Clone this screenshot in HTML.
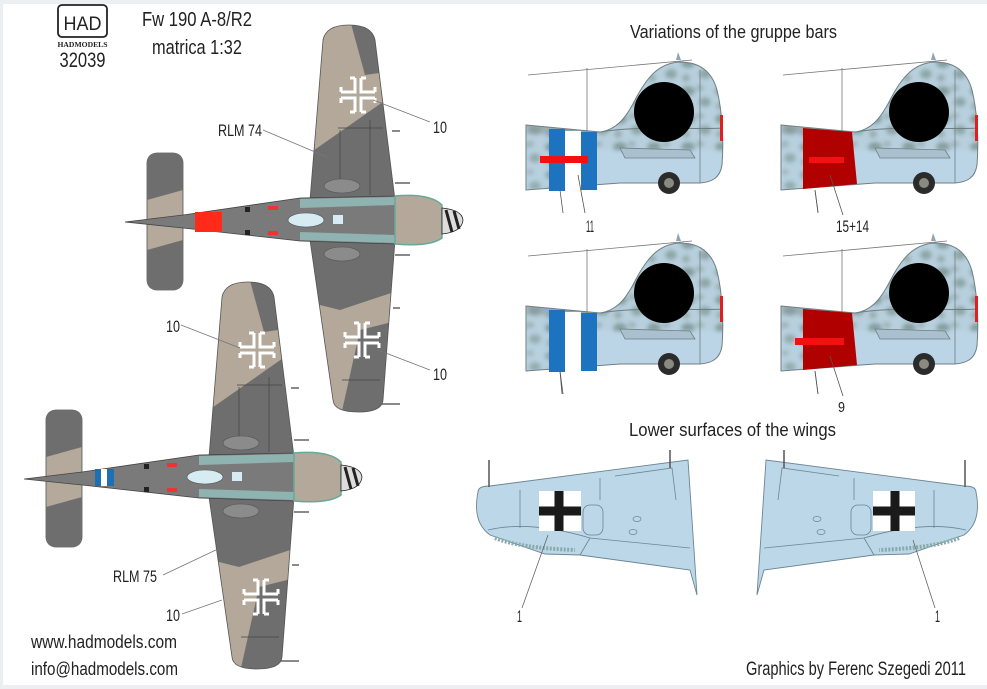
<!DOCTYPE html>
<html><head><meta charset="utf-8"><style>
html,body{margin:0;padding:0;background:#fff}
svg{display:block}
text{font-family:"Liberation Sans Narrow","Liberation Sans",sans-serif;fill:#222}
</style></head><body>
<svg width="987" height="689" viewBox="0 0 987 689" xmlns="http://www.w3.org/2000/svg">
<defs>
<filter id="bl" x="-20%" y="-20%" width="140%" height="140%"><feGaussianBlur stdDeviation="2.2"/></filter>
<pattern id="mot" width="34" height="28" patternUnits="userSpaceOnUse">
<rect width="34" height="28" fill="#b7cfdd"/>
<ellipse cx="8" cy="7" rx="7" ry="5" fill="#7f9a98"/>
<ellipse cx="25" cy="18" rx="6" ry="5" fill="#8aa3a2"/>
<ellipse cx="20" cy="4" rx="4" ry="3" fill="#9aaeb0"/>
<ellipse cx="6" cy="22" rx="4" ry="4" fill="#93aaa9"/>
</pattern>
<clipPath id="fsc"><path d="M526,125 L600,132 C615,130 625,120 635,100 C648,75 660,63 680,62 C700,62 712,72 717,90 C722,110 724,140 722,165 C720,178 712,182 700,183 L620,183 L526,190 Z"/></clipPath>
<clipPath id="wc"><path d="M310,200 L323,40 Q326,25 349,25 Q372,25 375,40 L395,200 L395,240 L383,400 Q382,412 358,412 Q334,412 333,400 L310,240 Z"/></clipPath>
<g id="sect">
<g clip-path="url(#fsc)">
<rect x="520" y="55" width="210" height="140" fill="#bcd5e6"/>
<g filter="url(#bl)">
<rect x="520" y="55" width="210" height="95" fill="url(#mot)" opacity="0.95"/>
<rect x="526" y="120" width="40" height="70" fill="url(#mot)" opacity="0.8"/>
<rect x="526" y="122" width="75" height="12" fill="#8a9a9c" opacity="0.6"/>
</g>
<path d="M600,132 C640,125 700,130 722,128" stroke="#6f7f85" stroke-width="1" fill="none"/>
<path d="M620,148 L690,150 L695,158 L625,158 Z" fill="#a9c0cf" stroke="#6f7f85" stroke-width="0.8"/>
<path d="M700,70 L700,183" stroke="#6f7f85" stroke-width="0.8"/>
</g>
<path d="M526,125 L600,132 C615,130 625,120 635,100 C648,75 660,63 680,62 C700,62 712,72 717,90 C722,110 724,140 722,165 C720,178 712,182 700,183 L620,183 L526,190 Z" fill="none" stroke="#6f7f85" stroke-width="1"/>
<path d="M676,60 L678,52 L681,60 Z" fill="#8fa6b2"/>
<rect x="720" y="115" width="3" height="26" fill="#e02020"/>
<circle cx="664" cy="112" r="30" fill="#000"/>
<circle cx="669" cy="183" r="11" fill="#2b2b2b"/><circle cx="669" cy="183" r="5" fill="#8a8a80"/>
<path d="M528,75 L692,60" stroke="#777" stroke-width="0.8"/>
<path d="M587,68 L587,182" stroke="#777" stroke-width="0.8"/>
<path d="M560,190 L563,213" stroke="#555" stroke-width="0.8"/>
</g>
<g id="cross">
<path d="M-3,-17 V-3 H-17 M3,-17 V-3 H17 M-3,17 V3 H-17 M3,17 V3 H17 M-3,-17 H-8 M3,-17 H8 M-17,-3 V-8 M17,-3 V-8 M-3,17 H-8 M3,17 H8 M-17,3 V8 M17,3 V8" stroke="#fff" stroke-width="3" fill="none"/></g>
<g id="plane">
<rect x="147" y="153" width="36" height="137" rx="10" fill="#b4a99b" stroke="#555" stroke-width="0.8"/>
<path d="M147,163 Q147,153 157,153 L173,153 Q183,153 183,163 L183,190 L147,200 Z M147,250 L183,240 L183,280 Q183,290 173,290 L157,290 Q147,290 147,280Z" fill="#6e6e6e"/>
<path d="M310,200 L323,40 Q326,25 349,25 Q372,25 375,40 L395,200 L395,240 L383,400 Q382,412 358,412 Q334,412 333,400 L310,240 Z" fill="#b3a899"/>
<g clip-path="url(#wc)" fill="#6e6e6e">
<path d="M350,20 L400,20 L400,70 L365,75 Z"/>
<path d="M300,160 L400,90 L400,200 L300,200 Z"/>
<path d="M300,240 L400,240 L400,290 L340,310 L300,300 Z"/>
<path d="M360,330 L400,320 L400,420 L340,420 Z"/>
</g>
<path d="M310,200 L323,40 Q326,25 349,25 Q372,25 375,40 L395,200 L395,240 L383,400 Q382,412 358,412 Q334,412 333,400 L310,240 Z" fill="none" stroke="#555" stroke-width="0.8"/>
<path d="M338,128 H383 M342,380 H380 M340,130 V190 M370,120 V195" stroke="#444" stroke-width="0.7" fill="none"/>
<ellipse cx="342" cy="186" rx="18" ry="7" fill="#8b8b8b" stroke="#555" stroke-width="0.6"/>
<ellipse cx="342" cy="254" rx="18" ry="7" fill="#8b8b8b" stroke="#555" stroke-width="0.6"/>
<path d="M392,131 H400 M395,183 H410 M395,255 H410 M393,308 H400 M382,404 H400" stroke="#444" stroke-width="1.2"/>
<path d="M125,222 L183,215 L300,198 L395,196 Q430,193 442,205 L442,238 Q430,247 395,244 L300,241 L183,228 Z" fill="#7a7a7a" stroke="#444" stroke-width="0.8"/>
<path d="M300,199 L395,197 L395,205 L300,208 Z M300,232 L395,235 L395,243 L300,240Z" fill="#8fb3b0"/>
<path d="M395,196 Q430,193 442,205 L442,238 Q430,247 395,244 Z" fill="#b3a899" stroke="#6a9" stroke-width="1.5"/>
<ellipse cx="306" cy="220" rx="18" ry="7" fill="#d7ecf2" stroke="#555" stroke-width="0.6"/>
<rect x="333" y="215" width="10" height="9" fill="#d7ecf2"/>
<rect x="245" y="207" width="5" height="5" fill="#222"/><rect x="245" y="230" width="5" height="5" fill="#222"/>
<rect x="268" y="206" width="10" height="4" fill="#e33"/><rect x="268" y="231" width="10" height="4" fill="#e33"/>
<path d="M442,208 Q462,210 463,220 Q462,232 442,234 Z" fill="#ddd" stroke="#222" stroke-width="0.8"/>
<path d="M446,210 L452,232 M454,211 L459,229" stroke="#222" stroke-width="3"/>
</g>
<g id="lw">
<path d="M478,492 Q478,486 490,486 L688,460 L697,595 L690,570 L580,555 L545,554 L490,535 Q472,522 478,492 Z" fill="#bcd7e8" stroke="#6b8594" stroke-width="0.9"/>
<path d="M488,530 Q530,520 590,538 L690,548 M590,538 L580,555 M520,490 L520,528 M600,478 L600,500 M615,476 L672,468 L676,500" stroke="#6b8594" stroke-width="0.8" fill="none"/>
<path d="M495,538 Q520,548 575,550" stroke="#8aa" stroke-width="4" fill="none" stroke-dasharray="2 1.5"/>
<rect x="583" y="505" width="20" height="30" rx="7" fill="none" stroke="#6b8594" stroke-width="0.8"/>
<ellipse cx="637" cy="519" rx="4" ry="2.5" fill="none" stroke="#6b8594" stroke-width="0.7"/>
<ellipse cx="633" cy="532" rx="4" ry="2.5" fill="none" stroke="#6b8594" stroke-width="0.7"/>
<path d="M489,487 L489,460 M670,468 L670,450" stroke="#555" stroke-width="1.5"/>
<rect x="539" y="491" width="42" height="40" fill="#fff"/>
<path d="M559,491 V531 M539,511 H581" stroke="#1a1a1a" stroke-width="9"/>
</g>
</defs>

<rect x="0" y="0" width="987" height="4" fill="#eceff1"/>
<rect x="0" y="685" width="987" height="4" fill="#eceff1"/>
<rect x="0" y="0" width="3" height="689" fill="#eceff1"/>

<rect x="58" y="5" width="49" height="32" rx="4" fill="none" stroke="#222" stroke-width="1.8"/>
<text x="82.5" y="30" font-size="19" text-anchor="middle" textLength="38" lengthAdjust="spacingAndGlyphs">HAD</text>
<text x="82.5" y="47" font-size="7" font-weight="bold" text-anchor="middle" textLength="50" lengthAdjust="spacingAndGlyphs" style="font-family:'Liberation Serif',serif">HADMODELS</text>
<text x="82.5" y="67" font-size="21" text-anchor="middle" textLength="46" lengthAdjust="spacingAndGlyphs">32039</text>
<text x="142" y="26" font-size="20" textLength="110" lengthAdjust="spacingAndGlyphs">Fw 190 A-8/R2</text>
<text x="152" y="54" font-size="20" textLength="90" lengthAdjust="spacingAndGlyphs">matrica 1:32</text>

<use href="#plane"/>
<rect x="195" y="212" width="27" height="20" fill="#ff2a1a"/>
<use href="#plane" transform="translate(-101,257)"/>
<rect x="95" y="469" width="6" height="17" fill="#1f6fb5"/><rect x="101" y="469" width="6" height="17" fill="#fff"/><rect x="107" y="469" width="7" height="17" fill="#1f6fb5"/>
<use href="#cross" x="358" y="95"/>
<use href="#cross" x="362" y="340"/>
<use href="#cross" x="257" y="350"/>
<use href="#cross" x="261" y="597"/>

<g stroke="#777" stroke-width="0.8">
<path d="M373,100 L430,122 M263,130 L327,157 M378,350 L430,370 M181,325 L240,348 M163,575 L218,549 M182,614 L222,600"/>
</g>
<text x="433" y="133" font-size="17" textLength="14" lengthAdjust="spacingAndGlyphs">10</text>
<text x="218" y="136" font-size="17" textLength="44" lengthAdjust="spacingAndGlyphs">RLM 74</text>
<text x="433" y="380" font-size="17" textLength="14" lengthAdjust="spacingAndGlyphs">10</text>
<text x="166" y="332" font-size="17" textLength="14" lengthAdjust="spacingAndGlyphs">10</text>
<text x="113" y="582" font-size="17" textLength="44" lengthAdjust="spacingAndGlyphs">RLM 75</text>
<text x="166" y="621" font-size="17" textLength="14" lengthAdjust="spacingAndGlyphs">10</text>
<text x="31" y="648" font-size="18" textLength="146" lengthAdjust="spacingAndGlyphs">www.hadmodels.com</text>
<text x="31" y="675" font-size="18" textLength="147" lengthAdjust="spacingAndGlyphs">info@hadmodels.com</text>

<text x="630" y="38" font-size="18" textLength="207" lengthAdjust="spacingAndGlyphs">Variations of the gruppe bars</text>
<use href="#sect"/>
<use href="#sect" transform="translate(255,0)"/>
<use href="#sect" transform="translate(0,181)"/>
<use href="#sect" transform="translate(255,181)"/>
<rect x="549" y="129" width="16" height="62" fill="#1d73c0"/><rect x="565" y="131" width="16" height="60" fill="#fff"/><rect x="581" y="132" width="16" height="58" fill="#1d73c0"/>
<rect x="540" y="156" width="48" height="7" fill="#f21010"/>
<rect x="549" y="310" width="16" height="62" fill="#1d73c0"/><rect x="565" y="312" width="16" height="60" fill="#fff"/><rect x="581" y="313" width="16" height="58" fill="#1d73c0"/>
<path d="M803,128 L852,132 L857,184 L803,189 Z" fill="#b00000"/>
<rect x="809" y="157" width="35" height="6" fill="#f21010"/>
<path d="M803,309 L852,313 L857,365 L803,370 Z" fill="#b00000"/>
<rect x="795" y="338" width="49" height="7" fill="#f21010"/>
<g stroke="#555" stroke-width="0.8">
<path d="M578,175 L585,213 M815,190 L818,212 M830,175 L843,215 M560,371 L562,394 M815,371 L818,394 M830,356 L843,396"/>
</g>
<text x="586" y="232" font-size="17" textLength="8" lengthAdjust="spacingAndGlyphs">11</text>
<text x="836" y="232" font-size="17" textLength="33" lengthAdjust="spacingAndGlyphs">15+14</text>
<text x="838" y="412" font-size="15" textLength="7" lengthAdjust="spacingAndGlyphs">9</text>

<text x="629" y="436" font-size="18" textLength="207" lengthAdjust="spacingAndGlyphs">Lower surfaces of the wings</text>
<use href="#lw"/>
<use href="#lw" transform="matrix(-1,0,0,1,1454,0)"/>
<g stroke="#666" stroke-width="0.8"><path d="M548,535 L522,608 M913,540 L935,608"/></g>
<text x="517" y="622" font-size="17" textLength="5" lengthAdjust="spacingAndGlyphs">1</text>
<text x="935" y="622" font-size="17" textLength="5" lengthAdjust="spacingAndGlyphs">1</text>
<text x="746" y="675" font-size="19" textLength="220" lengthAdjust="spacingAndGlyphs">Graphics by Ferenc Szegedi 2011</text>
</svg>
</body></html>
